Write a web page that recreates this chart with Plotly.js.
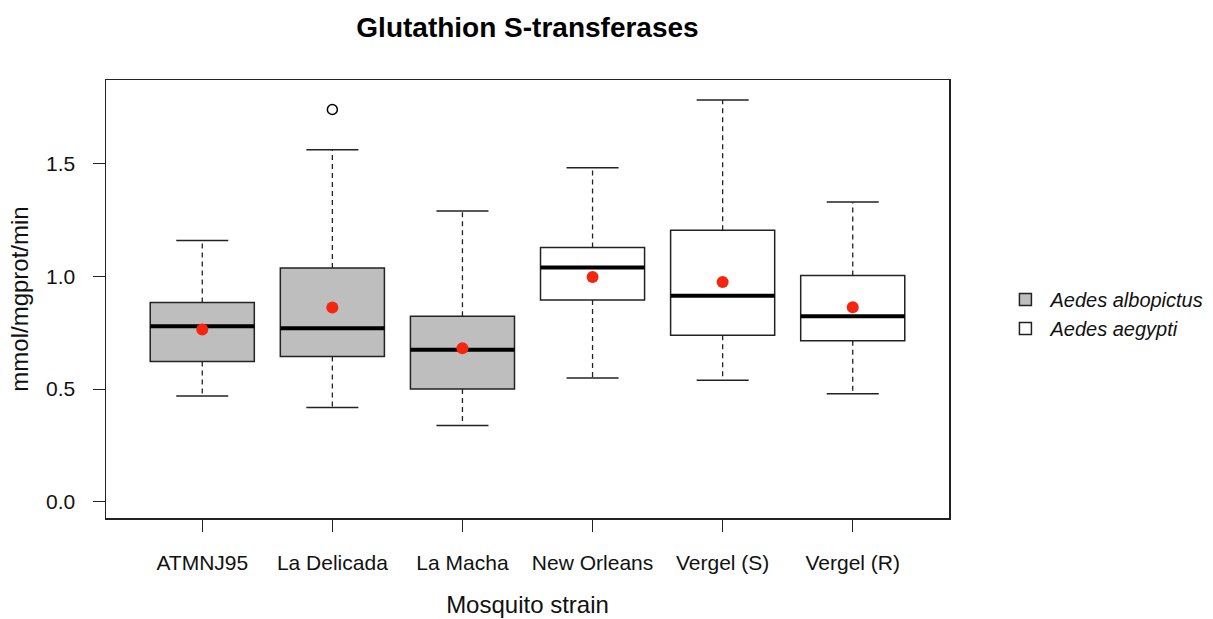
<!DOCTYPE html>
<html>
<head>
<meta charset="utf-8">
<script src="https://cdn.plot.ly/plotly-3.0.1.min.js"></script>
<style>html,body{margin:0;padding:0;background:#fff}#chart{width:1213px;height:619px}</style>
</head>
<body>
<div id="chart"></div>
<script>
// ---- data ----
const strains = ["ATMNJ95", "La Delicada", "La Macha", "New Orleans", "Vergel (S)", "Vergel (R)"];
const species = ["Aedes albopictus", "Aedes albopictus", "Aedes albopictus", "Aedes aegypti", "Aedes aegypti", "Aedes aegypti"];
const lowerWhisker = [0.469, 0.418, 0.338, 0.549, 0.539, 0.479];
const q1Values     = [0.623, 0.645, 0.500, 0.896, 0.739, 0.715];
const medianValues = [0.779, 0.770, 0.675, 1.040, 0.914, 0.823];
const q3Values     = [0.884, 1.038, 0.823, 1.129, 1.205, 1.004];
const upperWhisker = [1.160, 1.562, 1.291, 1.482, 1.783, 1.331];
const meanValues   = [0.765, 0.862, 0.681, 0.998, 0.975, 0.863];
const outlierStrain = ["La Delicada"];
const outlierValues = [1.741];
const yTickVals = [0, 0.5, 1, 1.5];
const yTickText = ["0.0", "0.5", "1.0", "1.5"];

// ---- build ----
const pos = strains.map((s, i) => i + 1);
const BOXW = 0.8, CAPW = 0.4;
const speciesStyles = {"Aedes albopictus": "#bebebe", "Aedes aegypti": "#ffffff"};
const FONT = "Liberation Sans, Arial, Helvetica, sans-serif";
const traces = [];

// whiskers (dashed) and caps
const wx = [], wy = [], cx = [], cy = [];
pos.forEach((p, i) => {
  wx.push(p, p, null, p, p, null);
  wy.push(q3Values[i], upperWhisker[i], null, q1Values[i], lowerWhisker[i], null);
  cx.push(p - CAPW / 2, p + CAPW / 2, null, p - CAPW / 2, p + CAPW / 2, null);
  cy.push(upperWhisker[i], upperWhisker[i], null, lowerWhisker[i], lowerWhisker[i], null);
});
traces.push({type: "scatter", mode: "lines", x: wx, y: wy, line: {color: "#222", width: 1.3, dash: "5px,4px"}, showlegend: false, hoverinfo: "skip"});
traces.push({type: "scatter", mode: "lines", x: cx, y: cy, line: {color: "#222", width: 1.5}, showlegend: false, hoverinfo: "skip"});

// boxes per species
Object.keys(speciesStyles).forEach(sp => {
  const idx = species.map((s, i) => s === sp ? i : -1).filter(i => i >= 0);
  traces.push({
    type: "box",
    name: "<i>" + sp + "</i>",
    x: idx.map(i => pos[i]),
    q1: idx.map(i => q1Values[i]),
    median: idx.map(i => medianValues[i]),
    q3: idx.map(i => q3Values[i]),
    lowerfence: idx.map(i => q1Values[i]),
    upperfence: idx.map(i => q3Values[i]),
    width: BOXW,
    whiskerwidth: 0,
    fillcolor: speciesStyles[sp],
    line: {color: "#222", width: 1.5},
    boxpoints: false,
    hoverinfo: "skip"
  });
});

// medians thick
const mx = [], my = [];
pos.forEach((p, i) => { mx.push(p - BOXW / 2, p + BOXW / 2, null); my.push(medianValues[i], medianValues[i], null); });
traces.push({type: "scatter", mode: "lines", x: mx, y: my, line: {color: "#000", width: 4}, showlegend: false, hoverinfo: "skip"});

// outliers
traces.push({type: "scatter", mode: "markers", x: outlierStrain.map(s => strains.indexOf(s) + 1), y: outlierValues,
  marker: {symbol: "circle-open", size: 10, color: "#000", line: {width: 1.5}}, showlegend: false, hoverinfo: "skip"});

// means
traces.push({type: "scatter", mode: "markers", x: pos, y: meanValues,
  marker: {symbol: "circle", size: 12, color: "#f5250f"}, showlegend: false, hoverinfo: "skip"});

const layout = {
  width: 1213, height: 619,
  margin: {l: 106, r: 264, t: 80, b: 101, autoexpand: false},
  paper_bgcolor: "#fff", plot_bgcolor: "#fff",
  font: {family: FONT, color: "#000", size: 20},
  title: {text: "<b>Glutathion S-transferases</b>", font: {family: FONT, size: 28, color: "#000"},
    x: 0.5, xref: "paper", y: 1 - 27 / 619, yref: "container", yanchor: "middle"},
  boxmode: "overlay",
  xaxis: {range: [0.26, 6.74], tickvals: pos, ticktext: strains, showgrid: false, zeroline: false,
    showline: true, mirror: true, linecolor: "#222", linewidth: 1.5,
    ticks: "outside", ticklen: 12, tickcolor: "#222", tickwidth: 1.2, ticklabelstandoff: 13,
    tickfont: {size: 21, family: FONT, color: "#111"},
    title: {text: "Mosquito strain", font: {size: 24, family: FONT, color: "#111"}, standoff: 23}},
  yaxis: {range: [-0.072, 1.872], tickvals: yTickVals, ticktext: yTickText, showgrid: false, zeroline: false,
    showline: true, mirror: true, linecolor: "#222", linewidth: 1.5,
    ticks: "outside", ticklen: 12, tickcolor: "#222", tickwidth: 1.2, ticklabelstandoff: 13,
    tickfont: {size: 21, family: FONT, color: "#111"},
    title: {text: "mmol/mgprot/min", font: {size: 24, family: FONT, color: "#111"}, standoff: 10}},
  legend: {x: 1.061, xanchor: "left", y: 0.466, yanchor: "middle", font: {size: 20, family: FONT, color: "#111"},
    bgcolor: "rgba(0,0,0,0)", itemwidth: 40, traceorder: "normal"},
  showlegend: true
};

Plotly.newPlot("chart", traces, layout, {displayModeBar: false, staticPlot: true});
</script>
</body>
</html>
